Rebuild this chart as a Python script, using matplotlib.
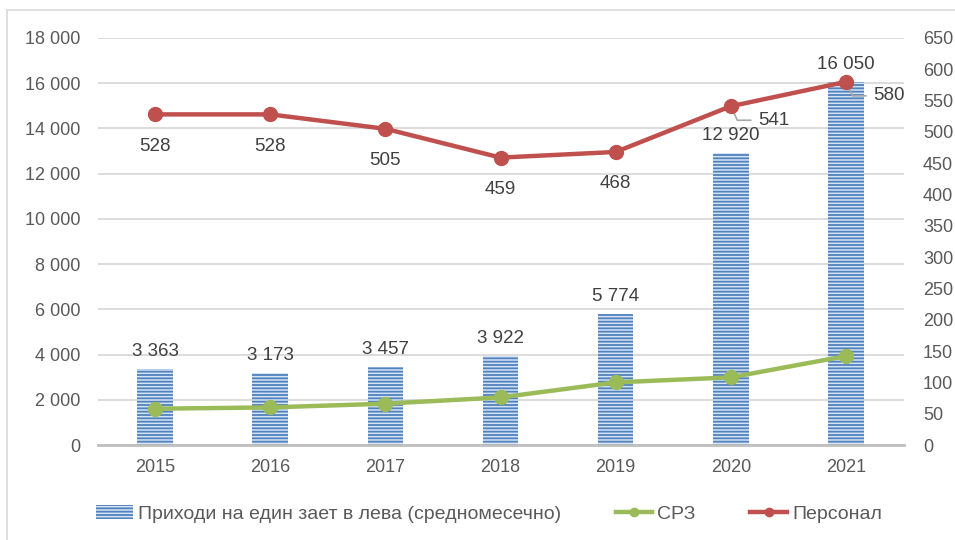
import matplotlib
matplotlib.use("Agg")
import matplotlib.pyplot as plt
from matplotlib.lines import Line2D
from matplotlib.patches import Patch
from matplotlib.ticker import FuncFormatter, MultipleLocator

years = ["2015", "2016", "2017", "2018", "2019", "2020", "2021"]
income = [3363, 3173, 3457, 3922, 5774, 12920, 16050]
srz = [58, 60, 66, 76, 100, 108, 142]
personnel = [528, 528, 505, 459, 468, 541, 580]

bar_label = "Приходи на един зает в лева (средномесечно)"
srz_label = "СРЗ"
pers_label = "Персонал"

text_col = "#595959"
blue = "#4F81BD"
green = "#9BBB59"
red = "#C0504D"

plt.rcParams["font.family"] = ["Liberation Sans", "DejaVu Sans"]
plt.rcParams["hatch.linewidth"] = 1.3


def space_fmt(v, pos=None):
    return f"{int(round(v)):,}".replace(",", " ")


fig = plt.figure(figsize=(9.55, 5.4), dpi=100)
ax = fig.add_axes([97.5 / 955, 95 / 540, 806 / 955, 407 / 540])
x = list(range(len(years)))

ax.bar(x, income, width=0.31, color="#D6E3F4", edgecolor=blue, linewidth=0,
       hatch="-----", zorder=2)
for xi, v in zip(x, income):
    ax.annotate(space_fmt(v), (xi, v), xytext=(0, 9), textcoords="offset pixels",
                ha="center", va="bottom", fontsize=13.5, color="#404040")

ax.set_xlim(-0.5, 6.5)
ax.set_ylim(0, 18000)
ax.yaxis.set_major_locator(MultipleLocator(2000))
ax.yaxis.set_major_formatter(FuncFormatter(space_fmt))
ax.set_xticks(x)
ax.set_xticklabels(years)
ax.grid(axis="y", color="#D9D9D9", linewidth=1.3, zorder=0)
ax.set_axisbelow(True)
for s in ["top", "right", "left"]:
    ax.spines[s].set_visible(False)
ax.spines["bottom"].set_color("#BFBFBF")
ax.spines["bottom"].set_linewidth(2)
ax.tick_params(axis="both", length=0, labelsize=13, labelcolor=text_col)
ax.tick_params(axis="x", pad=10)
ax.tick_params(axis="y", pad=12)

ax2 = ax.twinx()
ax2.set_ylim(0, 650)
ax2.yaxis.set_major_locator(MultipleLocator(50))
for s in ax2.spines.values():
    s.set_visible(False)
ax2.tick_params(axis="y", length=0, labelsize=13, labelcolor=text_col, pad=14)

ax2.plot(x, srz, color=green, linewidth=3.2, marker="o", markersize=10, zorder=3)
ax2.plot(x, personnel, color=red, linewidth=3.2, marker="o", markersize=10, zorder=4)

for xi, v in zip(x, personnel):
    if xi < 5:
        ax2.annotate(str(v), (xi, v), xytext=(0, -32), textcoords="offset pixels",
                     ha="center", va="center", fontsize=13.5, color="#404040")
    else:
        ax2.annotate(str(v), (xi, v), xytext=(27, -14), textcoords="offset pixels",
                     ha="left", va="center", fontsize=13.5, color="#404040",
                     arrowprops=dict(arrowstyle="-", color="#A6A6A6", lw=1.2,
                                     shrinkA=3, shrinkB=5,
                                     connectionstyle="angle,angleA=0,angleB=-65,rad=0"))

handles = [
    Patch(facecolor="#D6E3F4", edgecolor=blue, linewidth=0, hatch="-----"),
    Line2D([], [], color=green, linewidth=3.2, marker="o", markersize=6),
    Line2D([], [], color=red, linewidth=3.2, marker="o", markersize=6),
]
fig.legend(handles, [bar_label, srz_label, pers_label], loc="center",
           bbox_to_anchor=(489 / 955, 1 - 514 / 540), ncol=3, frameon=False,
           fontsize=14, labelcolor=text_col, columnspacing=2.8, handlelength=1.9,
           handletextpad=0.25)

# chart area border (only top and left visible in the crop)
fig.add_artist(Line2D([7 / 955, 7 / 955], [0, 1 - 10 / 540], transform=fig.transFigure,
                      color="#D9D9D9", linewidth=1.2))
fig.add_artist(Line2D([7 / 955, 1], [1 - 10 / 540, 1 - 10 / 540], transform=fig.transFigure,
                      color="#D9D9D9", linewidth=1.2))

fig.savefig("out.png", dpi=100)
